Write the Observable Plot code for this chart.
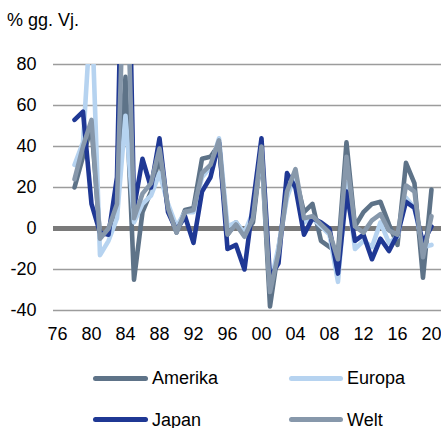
<!DOCTYPE html>
<html><head><meta charset="utf-8">
<script src="https://cdn.jsdelivr.net/npm/d3@7"></script>
<script src="https://cdn.jsdelivr.net/npm/@observablehq/plot@0.6"></script>
<style>
body{margin:0;background:#fff;font-family:"Liberation Sans",Arial,sans-serif;}
#wrap{position:relative;width:441px;height:428px;overflow:hidden;background:#fff;}
#title{position:absolute;left:7px;top:10px;font-size:18px;line-height:20px;color:#000;white-space:nowrap;}
#chart{position:absolute;left:0;top:40px;}
.sw{position:absolute;height:5px;border-radius:2.5px;}
.lb{position:absolute;font-size:18px;line-height:20px;color:#000;white-space:nowrap;}
</style></head>
<body><div id="wrap"><div id="title">% gg. Vj.</div><div id="chart"></div><div id="legend"></div></div>
<script>
const years = [1978,1979,1980,1981,1982,1983,1984,1985,1986,1987,1988,
  1989,1990,1991,1992,1993,1994,1995,1996,1997,1998,
  1999,2000,2001,2002,2003,2004,2005,2006,2007,2008,
  2009,2010,2011,2012,2013,2014,2015,2016,2017,2018,2019,2020];
const amerika = [20,35,50,-4,-1,12,74,-25,8,18,35,
  10,-2,9,10,34,35,41,-3,3,-3,
  3,38,-38,-10,18,25,8,12,-6,-9,
  -12,42,1,8,12,13,2,-8,32,22,-24,19];
const europa = [31,42,110,-13,-6,5,55,3,12,16,27,
  12,1,8,8,25,30,44,1,3,-2,
  8,37,-28,-9,15,27,3,5,1,-3,
  -26,22,-10,-6,-9,3,-7,-4,15,10,-9,-8];
const japan = [53,57,12,-2,-3,25,220,10,34,20,44,
  8,-1,6,-7,18,25,42,-10,-8,-20,
  12,44,-24,-17,27,20,-3,5,3,0,
  -22,18,-6,-3,-15,-5,-11,-3,13,10,-7,1];
const welt = [24,40,53,-5,0,12,150,5,17,22,39,
  10,-2,8,9,27,31,43,-3,2,-4,
  5,40,-31,-12,18,29,5,6,2,-2,
  -15,35,1,-2,4,7,-1,-3,21,18,-14,6];
const seriesNames = ["Amerika","Europa","Japan","Welt"];
const seriesColors = ["#5e7388","#b6d3f0","#1f3894","#8798ab"];
const xTicks = [1976,1980,1984,1988,1992,1996,2000,2004,2008,2012,2016,2020];
const yTicks = [-40,-20,0,20,40,60,80];

const valuesBy = {Amerika: amerika, Europa: europa, Japan: japan, Welt: welt};
const rows = [];
seriesNames.forEach(name => years.forEach((yr, i) => rows.push({series: name, year: yr, value: valuesBy[name][i]})));

const plot = Plot.plot({
  width: 441, height: 310,
  marginLeft: 53, marginRight: 0, marginTop: 24, marginBottom: 40,
  x: {domain: [1975.53, 2021.18], label: null},
  y: {domain: [-40, 80], label: null},
  style: {fontFamily: "'Liberation Sans', Arial, sans-serif", fontSize: "18px", color: "#000", background: "transparent", overflow: "visible"},
  marks: [
    Plot.ruleY(yTicks.filter(d => d !== 0), {stroke: "#9c9c9c", strokeWidth: 1.6}),
    Plot.ruleY([0], {stroke: "#7a7a7a", strokeWidth: 5}),
    ...seriesNames.map((name, k) => Plot.line(rows.filter(r => r.series === name), {
      x: "year", y: "value", stroke: seriesColors[k], strokeWidth: 4.6,
      strokeLinejoin: "round", strokeLinecap: "round", clip: true
    })),
    Plot.axisX({ticks: xTicks, tickSize: 0, tickPadding: 17, label: null, tickFormat: d => String(d % 100).padStart(2, "0")}),
    Plot.axisY({ticks: yTicks, tickSize: 0, tickPadding: 17, label: null, tickFormat: d => String(d)})
  ]
});
document.getElementById("chart").appendChild(plot);

// legend
const legend = document.getElementById("legend");
const legendPos = [
  {sx: 93, sw: 55, tx: 152, sy: 378, ty: 368},
  {sx: 289, sw: 54, tx: 347, sy: 378, ty: 368},
  {sx: 93, sw: 55, tx: 152, sy: 419, ty: 410},
  {sx: 289, sw: 54, tx: 347, sy: 419, ty: 410}
];
seriesNames.forEach((name, k) => {
  const p = legendPos[k];
  const s = document.createElement("div");
  s.className = "sw";
  s.style.left = p.sx + "px"; s.style.top = (p.sy - 2.5) + "px"; s.style.width = p.sw + "px";
  s.style.background = seriesColors[k];
  legend.appendChild(s);
  const t = document.createElement("div");
  t.className = "lb";
  t.style.left = p.tx + "px"; t.style.top = p.ty + "px";
  t.textContent = name;
  legend.appendChild(t);
});
</script>
</body></html>
